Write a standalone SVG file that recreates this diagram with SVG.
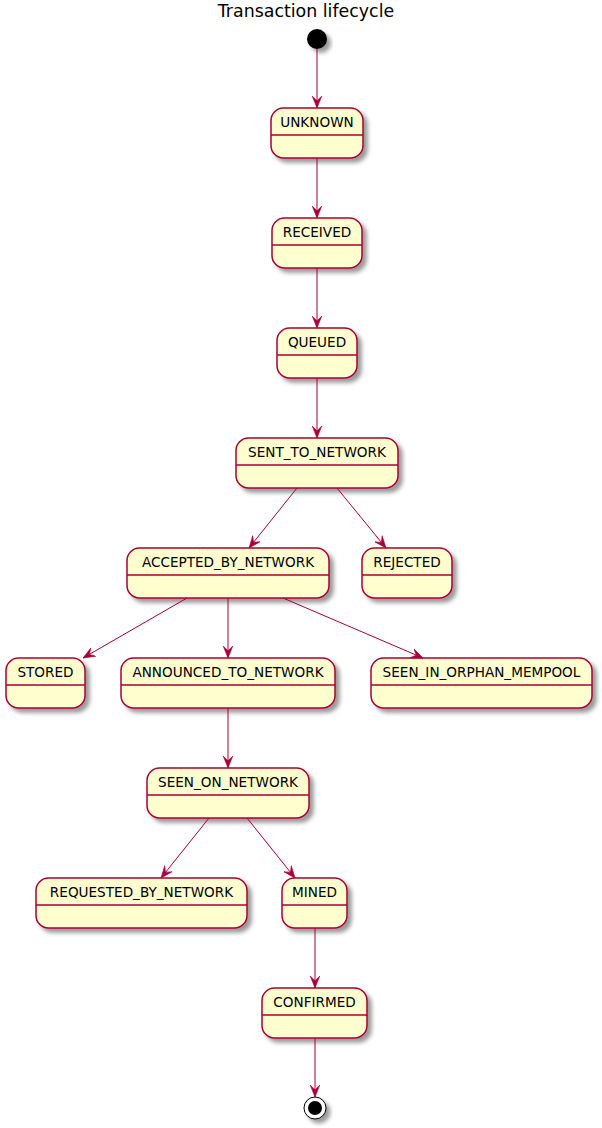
<svg xmlns="http://www.w3.org/2000/svg" width="602" height="1128" viewBox="0 0 602 1128">
<style>
.st{fill:#FEFECE;stroke:#A80036;stroke-width:1.5;filter:url(#sh)}
.dv{stroke:#A80036;stroke-width:1.5}
.lb{font-family:"DejaVu Sans",sans-serif;font-size:13.6px;fill:#000;text-anchor:middle}
.ed{fill:none;stroke:#A80036;stroke-width:1;marker-end:url(#ah)}
</style>
<defs>
<filter id="sh" x="-20%" y="-20%" width="150%" height="160%">
<feDropShadow dx="4" dy="4" stdDeviation="2" flood-color="#000" flood-opacity="0.4"/>
</filter>
<marker id="ah" markerUnits="userSpaceOnUse" markerWidth="12" markerHeight="12" viewBox="0 0 10 10" refX="10" refY="5" orient="auto">
<path d="M10,5 L0,1 L4,5 L0,9 Z" fill="#A80036" stroke="#A80036" stroke-width="0.5"/>
</marker>
</defs>
<rect width="602" height="1128" fill="#FFFFFF"/>
<text x="306" y="17" font-family="DejaVu Sans,sans-serif" font-size="17.4" text-anchor="middle">Transaction lifecycle</text>

<g id="start"><circle cx="317" cy="39" r="10" fill="#000" filter="url(#sh)"/></g>

<g id="UNKNOWN"><rect class="st" x="271" y="108" width="92" height="50" rx="12.5"/><line class="dv" x1="271" y1="135" x2="363" y2="135"/><text class="lb" x="317" y="127">UNKNOWN</text></g>
<g id="RECEIVED"><rect class="st" x="272" y="218" width="90" height="50" rx="12.5"/><line class="dv" x1="272" y1="245" x2="362" y2="245"/><text class="lb" x="317" y="237">RECEIVED</text></g>
<g id="QUEUED"><rect class="st" x="277" y="328" width="80" height="50" rx="12.5"/><line class="dv" x1="277" y1="355" x2="357" y2="355"/><text class="lb" x="317" y="347">QUEUED</text></g>
<g id="SENT_TO_NETWORK"><rect class="st" x="236" y="438" width="162" height="50" rx="12.5"/><line class="dv" x1="236" y1="465" x2="398" y2="465"/><text class="lb" x="317" y="457">SENT_TO_NETWORK</text></g>
<g id="ACCEPTED_BY_NETWORK"><rect class="st" x="127" y="548" width="202" height="50" rx="12.5"/><line class="dv" x1="127" y1="575" x2="329" y2="575"/><text class="lb" x="228" y="567">ACCEPTED_BY_NETWORK</text></g>
<g id="REJECTED"><rect class="st" x="362" y="548" width="90" height="50" rx="12.5"/><line class="dv" x1="362" y1="575" x2="452" y2="575"/><text class="lb" x="407" y="567">REJECTED</text></g>
<g id="STORED"><rect class="st" x="6" y="658" width="79" height="50" rx="12.5"/><line class="dv" x1="6" y1="685" x2="85" y2="685"/><text class="lb" x="45.5" y="677">STORED</text></g>
<g id="ANNOUNCED_TO_NETWORK"><rect class="st" x="121" y="658" width="214" height="50" rx="12.5"/><line class="dv" x1="121" y1="685" x2="335" y2="685"/><text class="lb" x="228" y="677">ANNOUNCED_TO_NETWORK</text></g>
<g id="SEEN_IN_ORPHAN_MEMPOOL"><rect class="st" x="371" y="658" width="221" height="50" rx="12.5"/><line class="dv" x1="371" y1="685" x2="592" y2="685"/><text class="lb" x="481.5" y="677">SEEN_IN_ORPHAN_MEMPOOL</text></g>
<g id="SEEN_ON_NETWORK"><rect class="st" x="147" y="768" width="162" height="50" rx="12.5"/><line class="dv" x1="147" y1="795" x2="309" y2="795"/><text class="lb" x="228" y="787">SEEN_ON_NETWORK</text></g>
<g id="REQUESTED_BY_NETWORK"><rect class="st" x="36" y="878" width="211" height="50" rx="12.5"/><line class="dv" x1="36" y1="905" x2="247" y2="905"/><text class="lb" x="141.5" y="897">REQUESTED_BY_NETWORK</text></g>
<g id="MINED"><rect class="st" x="282" y="878" width="65" height="50" rx="12.5"/><line class="dv" x1="282" y1="905" x2="347" y2="905"/><text class="lb" x="314.5" y="897">MINED</text></g>
<g id="CONFIRMED"><rect class="st" x="262" y="988" width="105" height="50" rx="12.5"/><line class="dv" x1="262" y1="1015" x2="367" y2="1015"/><text class="lb" x="314.5" y="1007">CONFIRMED</text></g>

<g id="end"><circle cx="315" cy="1108" r="11" fill="#FFFFFF" stroke="#000" stroke-width="1" filter="url(#sh)"/><circle cx="315" cy="1108" r="7" fill="#000"/></g>

<g id="connectors">
<line class="ed" x1="317" y1="49" x2="317" y2="108"/>
<line class="ed" x1="317" y1="158" x2="317" y2="218"/>
<line class="ed" x1="317" y1="268" x2="317" y2="328"/>
<line class="ed" x1="317" y1="378" x2="317" y2="438"/>
<line class="ed" x1="297" y1="488" x2="249" y2="548"/>
<line class="ed" x1="337" y1="488" x2="386" y2="548"/>
<line class="ed" x1="187" y1="598" x2="83" y2="658"/>
<line class="ed" x1="228" y1="598" x2="228" y2="658"/>
<line class="ed" x1="283" y1="598" x2="423" y2="658"/>
<line class="ed" x1="228" y1="708" x2="228" y2="768"/>
<line class="ed" x1="209" y1="818" x2="161" y2="878"/>
<line class="ed" x1="247" y1="818" x2="295" y2="878"/>
<line class="ed" x1="315" y1="928" x2="315" y2="988"/>
<line class="ed" x1="315" y1="1038" x2="315" y2="1097"/>
</g>
</svg>
